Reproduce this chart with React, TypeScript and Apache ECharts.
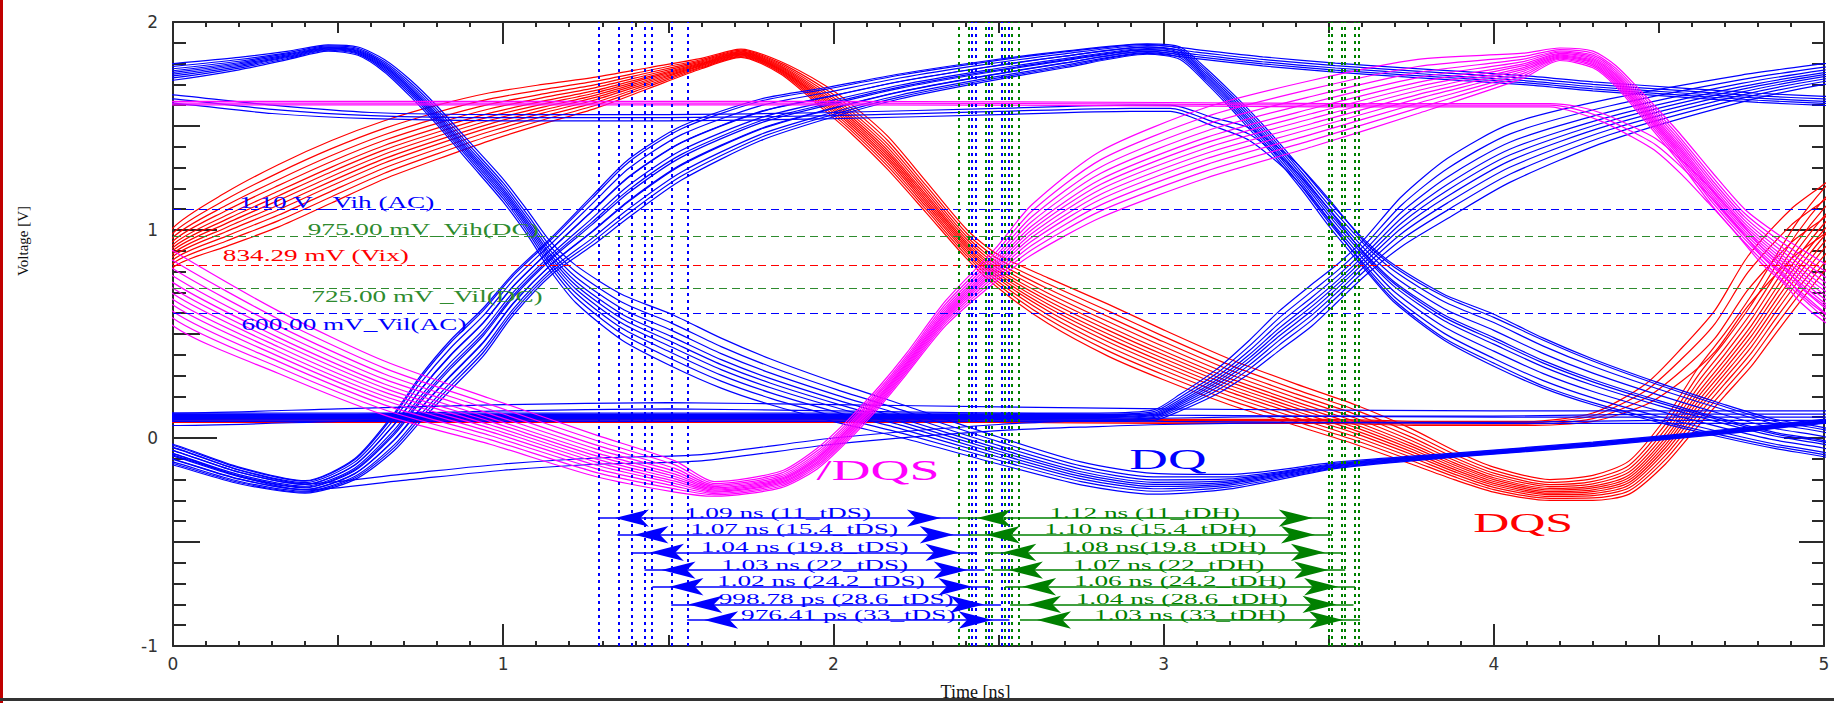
import React, { useEffect, useRef } from "react";
import * as echarts from "echarts";

// ================= DATA =================
// Reference threshold levels [V]
const thresholdValues = [1.1, 0.975, 0.83429, 0.725, 0.6];
const thresholdLabels = [
  "1.10 V _Vih (AC)",
  "975.00 mV_Vih(DC)",
  "834.29 mV (Vix)",
  "725.00 mV _Vil(DC)",
  "600.00 mV_Vil(AC)",
];

// Setup (tDS) and hold (tDH) measurements [ns]
const tdsStart = [1.287, 1.346, 1.393, 1.428, 1.452, 1.509, 1.557];
const tdsValue = [1.09, 1.07, 1.04, 1.03, 1.02, 0.99878, 0.97641];
const tdsLabels = [
  "1.09 ns (11_tDS)",
  "1.07 ns (15.4_tDS)",
  "1.04 ns (19.8_tDS)",
  "1.03 ns (22_tDS)",
  "1.02 ns (24.2_tDS)",
  "998.78 ps (28.6_tDS)",
  "976.41 ps (33_tDS)",
];
const tdhStart = [2.383, 2.41, 2.46, 2.48, 2.52, 2.535, 2.565];
const tdhValue = [1.12, 1.1, 1.08, 1.07, 1.06, 1.04, 1.03];
const tdhLabels = [
  "1.12 ns (11_tDH)",
  "1.10 ns (15.4_tDH)",
  "1.08 ns(19.8_tDH)",
  "1.07 ns (22_tDH)",
  "1.06 ns (24.2_tDH)",
  "1.04 ns (28.6_tDH)",
  "1.03 ns (33_tDH)",
];
const measureRows = [-0.385, -0.465, -0.55, -0.635, -0.715, -0.8, -0.875];

const signalLabels = ["/DQS", "DQ", "DQS"];

// ---- DQ (blue) trace bundles: knot time [ns], centre voltage [V], half spread [V], trace weights
const dqAT = [-0.2, 0, 0.2, 0.35, 0.47, 0.56, 0.64, 0.72, 0.8, 0.9, 1.0, 1.08, 1.14, 1.22, 1.36, 1.51, 1.66, 1.81, 2.01, 2.21, 2.5, 2.75, 2.97, 3.2, 3.53, 3.9, 4.3, 4.7, 5.0, 5.2];
const dqAV = [1.73, 1.76, 1.8, 1.84, 1.875, 1.86, 1.79, 1.68, 1.55, 1.37, 1.19, 1.02, 0.88, 0.74, 0.58, 0.47, 0.36, 0.27, 0.17, 0.08, -0.06, -0.17, -0.22, -0.21, -0.13, -0.08, -0.03, 0.03, 0.08, 0.1];
const dqAS = [0.04, 0.04, 0.03, 0.02, 0.015, 0.02, 0.03, 0.04, 0.045, 0.05, 0.055, 0.06, 0.07, 0.09, 0.11, 0.125, 0.12, 0.11, 0.095, 0.08, 0.065, 0.055, 0.05, 0.035, 0.015, 0.01, 0.01, 0.01, 0.01, 0.01];
const dqAW = [-1, -0.72, -0.48, -0.26, -0.06, 0.14, 0.38, 0.66, 1];

const dqRiseT = [-0.2, 0, 0.2, 0.4, 0.55, 0.67, 0.75, 0.84, 0.94, 1.03, 1.15, 1.27, 1.38, 1.54, 1.78, 1.98, 2.2, 2.45, 2.7, 2.95];
const dqRiseV = [0.0, -0.08, -0.18, -0.235, -0.15, 0.03, 0.19, 0.35, 0.51, 0.69, 0.88, 1.045, 1.2, 1.37, 1.53, 1.61, 1.69, 1.76, 1.82, 1.87];
const dqRiseS = [0.05, 0.05, 0.04, 0.03, 0.05, 0.09, 0.11, 0.12, 0.115, 0.1, 0.09, 0.12, 0.14, 0.13, 0.1, 0.075, 0.06, 0.05, 0.04, 0.025];

const dqFallTailT = [3.05, 3.13, 3.2, 3.26, 3.33, 3.42, 3.5, 3.61, 3.7, 3.85, 4.0, 4.15, 4.3, 4.5, 4.7, 4.85, 5.0, 5.2];
const dqFallTailV = [1.85, 1.74, 1.63, 1.53, 1.41, 1.24, 1.08, 0.88, 0.74, 0.58, 0.47, 0.36, 0.27, 0.17, 0.08, 0.02, -0.02, -0.1];
const dqFallTailS = [0.03, 0.035, 0.04, 0.045, 0.045, 0.05, 0.06, 0.07, 0.09, 0.11, 0.125, 0.12, 0.11, 0.095, 0.08, 0.07, 0.07, 0.06];
const dqRiseFallW = [-1, -0.7, -0.42, -0.15, 0.1, 0.38, 0.68, 1];

const dqHighTailT = [3.1, 3.3, 3.52, 3.8, 4.09, 4.3, 4.57, 4.8, 5.0, 5.2];
const dqHighTailV = [1.845, 1.81, 1.78, 1.75, 1.72, 1.69, 1.66, 1.635, 1.62, 1.61];
const dqHighTailS = [0.025, 0.025, 0.025, 0.025, 0.025, 0.025, 0.025, 0.025, 0.025, 0.025];
const dqRiseHighW = [-0.85, -0.45, -0.05, 0.4, 0.9];

const dqHT = [-0.2, 0, 0.3, 0.6, 1.0, 1.5, 2.0, 2.5, 2.9, 3.02, 3.15, 3.26, 3.39, 3.5, 3.61, 3.7, 3.85, 4.0, 4.15, 4.3, 4.5, 4.7, 4.85, 5.0, 5.2];
const dqHV = [1.65, 1.63, 1.58, 1.55, 1.54, 1.54, 1.55, 1.57, 1.585, 1.585, 1.52, 1.46, 1.3, 1.1, 0.88, 0.74, 0.58, 0.47, 0.36, 0.27, 0.17, 0.08, 0.02, -0.02, -0.1];
const dqHS = [0.02, 0.02, 0.02, 0.015, 0.015, 0.015, 0.015, 0.015, 0.015, 0.015, 0.02, 0.03, 0.04, 0.05, 0.06, 0.08, 0.1, 0.11, 0.11, 0.1, 0.085, 0.07, 0.06, 0.06, 0.05];
const dqHW = [-1, 0, 1];

const dqDT = [-0.2, 0, 0.5, 1.0, 1.5, 2.0, 2.5, 2.8, 2.97, 3.05, 3.16, 3.26, 3.35, 3.45, 3.53, 3.61, 3.72, 3.86, 4.05, 4.35, 4.75, 5.0, 5.2];
const dqDV = [0.11, 0.1, 0.1, 0.1, 0.1, 0.1, 0.1, 0.1, 0.11, 0.17, 0.27, 0.39, 0.515, 0.64, 0.75, 0.87, 1.04, 1.2, 1.37, 1.53, 1.68, 1.75, 1.79];
const dqDS = [0.02, 0.02, 0.02, 0.02, 0.02, 0.02, 0.02, 0.02, 0.025, 0.04, 0.06, 0.08, 0.095, 0.1, 0.09, 0.09, 0.12, 0.145, 0.14, 0.1, 0.065, 0.05, 0.05];
const dqDW = [-1, -0.72, -0.48, -0.26, -0.06, 0.14, 0.38, 0.66, 1];

const dqLT = [-0.2, 0, 0.2, 0.4, 0.69, 1.0, 1.3, 1.6, 2.0, 2.5, 2.8, 3.0, 3.5, 4.0, 4.5, 5.2];
const dqLV = [0.0, -0.06, -0.17, -0.235, -0.19, -0.14, -0.11, -0.095, -0.015, 0.05, 0.07, 0.08, 0.09, 0.09, 0.1, 0.1];
const dqLS = [0.015, 0.015, 0.015, 0.015, 0.015, 0.015, 0.015, 0.015, 0.015, 0.015, 0.015, 0.015, 0.015, 0.015, 0.015, 0.015];
const dqLW = [-1, 1];

const dqFT = [-0.2, 0, 0.5, 1.0, 1.5, 2.0, 2.5, 3.0, 4.0, 5.2];
const dqFV = [0.09, 0.09, 0.11, 0.13, 0.14, 0.13, 0.12, 0.11, 0.1, 0.1];
const dqFS = [0.03, 0.03, 0.03, 0.03, 0.03, 0.03, 0.03, 0.03, 0.03, 0.03];
const dqFW = [-1, 0, 1];

// ---- DQS (red)
const dqsAT = [-0.2, 0, 0.16, 0.32, 0.48, 0.64, 0.8, 0.96, 1.12, 1.28, 1.44, 1.6, 1.72, 1.84, 1.97, 2.05, 2.165, 2.28, 2.405, 2.5, 2.65, 2.83, 3.0, 3.2, 3.4, 3.58, 3.75, 3.88, 4.0, 4.17, 4.3, 4.41, 4.52, 4.62, 4.7, 4.78, 4.85, 4.92, 5.0, 5.2];
const dqsAV = [0.5, 0.915, 1.05, 1.165, 1.28, 1.385, 1.47, 1.545, 1.605, 1.66, 1.73, 1.8, 1.85, 1.78, 1.64, 1.54, 1.37, 1.16, 0.93, 0.8, 0.66, 0.52, 0.4, 0.27, 0.16, 0.065, -0.04, -0.13, -0.2, -0.25, -0.24, -0.19, -0.015, 0.2, 0.354, 0.515, 0.68, 0.84, 1.0, 1.35];
const dqsAS = [0.06, 0.095, 0.13, 0.15, 0.15, 0.14, 0.13, 0.115, 0.095, 0.075, 0.05, 0.025, 0.02, 0.03, 0.06, 0.07, 0.08, 0.075, 0.07, 0.08, 0.11, 0.125, 0.12, 0.11, 0.1, 0.095, 0.085, 0.07, 0.06, 0.05, 0.06, 0.08, 0.11, 0.14, 0.15, 0.17, 0.185, 0.2, 0.2, 0.2];
const dqsAW = [-1, -0.8, -0.62, -0.45, -0.3, -0.15, 0, 0.15, 0.33, 0.52, 0.74, 1];

const dqsBT = [-0.2, 0, 1, 2, 2.5, 3.0, 3.5, 3.8, 4.1, 4.3, 4.46, 4.57, 4.67, 4.77, 4.9, 5.0, 5.2];
const dqsBV = [0.085, 0.085, 0.085, 0.085, 0.085, 0.08, 0.08, 0.07, 0.07, 0.1, 0.21, 0.354, 0.515, 0.755, 0.98, 1.1, 1.35];
const dqsBS = [0.01, 0.01, 0.01, 0.01, 0.01, 0.01, 0.01, 0.01, 0.01, 0.02, 0.05, 0.08, 0.1, 0.12, 0.12, 0.12, 0.12];
const dqsBW = [-1, -0.35, 0.35, 1];

// ---- /DQS (magenta)
const ndqsAT = [-0.2, 0, 0.32, 0.64, 0.96, 1.28, 1.52, 1.64, 1.84, 1.95, 2.04, 2.14, 2.22, 2.34, 2.49, 2.6, 2.81, 3.13, 3.45, 3.77, 4.09, 4.2, 4.3, 4.37, 4.45, 4.56, 4.66, 4.76, 4.86, 4.95, 5.0, 5.2];
const ndqsAV = [1.0, 0.72, 0.46, 0.24, 0.08, -0.085, -0.185, -0.245, -0.2, -0.1, 0.03, 0.2, 0.354, 0.6, 0.83, 1.0, 1.22, 1.42, 1.56, 1.69, 1.79, 1.845, 1.82, 1.74, 1.6, 1.4, 1.2, 1.02, 0.88, 0.77, 0.71, 0.5];
const ndqsAS = [0.1, 0.18, 0.15, 0.13, 0.11, 0.1, 0.075, 0.035, 0.04, 0.05, 0.05, 0.05, 0.05, 0.06, 0.08, 0.12, 0.16, 0.17, 0.16, 0.13, 0.06, 0.03, 0.04, 0.05, 0.06, 0.07, 0.08, 0.08, 0.1, 0.12, 0.13, 0.15];
const ndqsAW = [-1, -0.8, -0.62, -0.45, -0.3, -0.15, 0, 0.15, 0.33, 0.52, 0.74, 1];

const ndqsBT = [-0.2, 0, 1, 2, 3, 3.5, 4.0, 4.17, 4.25, 4.33, 4.41, 4.49, 4.57, 4.65, 4.73, 4.81, 4.88, 4.93, 5.0, 5.2];
const ndqsBV = [1.61, 1.61, 1.61, 1.61, 1.605, 1.6, 1.6, 1.6, 1.58, 1.54, 1.48, 1.41, 1.3, 1.17, 1.03, 0.88, 0.78, 0.69, 0.6, 0.4];
const ndqsBS = [0.008, 0.008, 0.008, 0.008, 0.008, 0.008, 0.008, 0.008, 0.015, 0.02, 0.025, 0.03, 0.035, 0.04, 0.04, 0.04, 0.04, 0.04, 0.04, 0.04];
const ndqsBW = [-1, 0, 1];

// ================= STYLE / LAYOUT =================
const BLUE = "#0000ff";
const RED = "#ff0000";
const MAGENTA = "#ff00ff";
const GREEN = "#008000";
const GREEN_DASH = "#2e8b2e";
const AXIS = "#2a2a2a";
const SERIF = '"Liberation Serif", "Times New Roman", serif';

const thresholdColors = [BLUE, GREEN_DASH, RED, GREEN_DASH, BLUE];
const thresholdLabelAt = [
  [0.2, 1.133],
  [0.408, 1.005],
  [0.151, 0.876],
  [0.419, 0.683],
  [0.2075, 0.547],
];
const signalLabelAt = [
  [2.135, -0.15],
  [3.013, -0.097],
  [4.089, -0.41],
];
const signalLabelColors = [MAGENTA, BLUE, RED];
const signalLabelSize = [30, 30, 27];
const signalLabelScale = [1.8, 1.78, 1.85];

function bundle(t: number[], v: number[], s: number[], w: number[]) {
  return w.map((k) => t.map((ti, i) => [ti, +(v[i] + k * s[i]).toFixed(4)]));
}

function traceSeries(lines: number[][][], color: string) {
  return lines.map((d) => ({
    type: "line",
    data: d,
    symbol: "none",
    showSymbol: false,
    smooth: 0.25,
    silent: true,
    z: 2,
    lineStyle: { width: 1.2, color },
    itemStyle: { color },
    emphasis: { disabled: true },
    animation: false,
  }));
}

function arrowSeries(start: number[], dur: number[], color: string) {
  const data = start.map((s, i) => {
    const end = { symbol: "arrow", symbolSize: [13, 34], symbolOffset: [0, 17] };
    return [
      { coord: [s, measureRows[i]], ...end },
      { coord: [s + dur[i], measureRows[i]], ...end },
    ];
  });
  return {
    type: "line",
    data: [],
    silent: true,
    z: 4,
    markLine: {
      silent: true,
      animation: false,
      symbol: ["arrow", "arrow"],
      label: { show: false },
      lineStyle: { color, width: 1.5, type: "solid" },
      data,
    },
  };
}

function vLineSeries(xs: number[], color: string) {
  return {
    type: "line",
    data: [],
    silent: true,
    z: 3,
    markLine: {
      silent: true,
      animation: false,
      symbol: ["none", "none"],
      label: { show: false },
      lineStyle: { color, width: 2, type: [3, 4] },
      data: xs.map((x) => ({ xAxis: x })),
    },
  };
}

function hLineSeries(ys: number[], color: string) {
  return {
    type: "line",
    data: [],
    silent: true,
    z: 1,
    markLine: {
      silent: true,
      animation: false,
      symbol: ["none", "none"],
      label: { show: false },
      lineStyle: { color, width: 1, type: [8, 5] },
      data: ys.map((y) => ({ yAxis: y })),
    },
  };
}

export default function App() {
  const ref = useRef<HTMLDivElement>(null);

  useEffect(() => {
    if (!ref.current) return;
    const chart = echarts.init(ref.current, null, { renderer: "svg" });

    const tickStyle = { color: AXIS, width: 2 };
    const xBase = { type: "value", min: 0, max: 5, splitLine: { show: false } };
    const yBase = { type: "value", min: -1, max: 2, splitLine: { show: false } };

    const blueLines = [
      ...bundle(dqAT, dqAV, dqAS, dqAW),
      ...bundle(dqRiseT.concat(dqFallTailT), dqRiseV.concat(dqFallTailV), dqRiseS.concat(dqFallTailS), dqRiseFallW),
      ...bundle(dqRiseT.concat(dqHighTailT), dqRiseV.concat(dqHighTailV), dqRiseS.concat(dqHighTailS), dqRiseHighW),
      ...bundle(dqHT, dqHV, dqHS, dqHW),
      ...bundle(dqDT, dqDV, dqDS, dqDW),
      ...bundle(dqLT, dqLV, dqLS, dqLW),
      ...bundle(dqFT, dqFV, dqFS, dqFW),
    ];
    const redLines = [...bundle(dqsAT, dqsAV, dqsAS, dqsAW), ...bundle(dqsBT, dqsBV, dqsBS, dqsBW)];
    const magentaLines = [...bundle(ndqsAT, ndqsAV, ndqsAS, ndqsAW), ...bundle(ndqsBT, ndqsBV, ndqsBS, ndqsBW)];

    const tdsEnd = tdsStart.map((s, i) => s + tdsValue[i]);
    const tdhEnd = tdhStart.map((s, i) => s + tdhValue[i]);

    const option: any = {
      animation: false,
      backgroundColor: "#ffffff",
      grid: { left: 173, right: 10, top: 22, bottom: 57, containLabel: false, outerBoundsMode: "none" },
      xAxis: [
        {
          ...xBase,
          position: "bottom",
          interval: 1,
          axisLine: { show: true, onZero: false, lineStyle: tickStyle },
          axisTick: { show: true, inside: true, length: 22, lineStyle: tickStyle },
          minorTick: { show: true, splitNumber: 10, length: 5, lineStyle: tickStyle },
          axisLabel: { show: true, margin: 9, color: "#333", fontSize: 17, fontFamily: "DejaVu Sans", showMinLabel: true, showMaxLabel: true },
          name: "Time [ns]",
          nameLocation: "middle",
          nameGap: 37,
          nameTextStyle: { fontFamily: SERIF, fontSize: 18, color: "#111", padding: [0, 46, 0, 0] },
        },
        {
          ...xBase,
          position: "bottom",
          interval: 0.5,
          axisLine: { show: false, onZero: false },
          axisTick: { show: true, inside: true, length: 11, lineStyle: tickStyle },
          axisLabel: { show: false },
        },
        {
          ...xBase,
          position: "top",
          interval: 1,
          axisLine: { show: true, onZero: false, lineStyle: tickStyle },
          axisTick: { show: true, inside: true, length: 22, lineStyle: tickStyle },
          minorTick: { show: true, splitNumber: 10, length: 5, lineStyle: tickStyle },
          axisLabel: { show: false },
        },
        {
          ...xBase,
          position: "top",
          interval: 0.5,
          axisLine: { show: false, onZero: false },
          axisTick: { show: true, inside: true, length: 11, lineStyle: tickStyle },
          axisLabel: { show: false },
        },
      ],
      yAxis: [
        {
          ...yBase,
          position: "left",
          interval: 1,
          axisLine: { show: true, onZero: false, lineStyle: tickStyle },
          axisTick: { show: true, inside: true, length: 44, lineStyle: tickStyle },
          minorTick: { show: true, splitNumber: 10, length: 13, lineStyle: tickStyle },
          axisLabel: { show: true, margin: 15, color: "#333", fontSize: 17, fontFamily: "DejaVu Sans", showMinLabel: true, showMaxLabel: true },
          name: "Voltage [V]",
          nameLocation: "middle",
          nameGap: 143,
          nameTextStyle: { fontFamily: SERIF, fontSize: 15, color: "#111", padding: [0, 0, 0, 186] },
        },
        {
          ...yBase,
          position: "left",
          interval: 0.5,
          axisLine: { show: false, onZero: false },
          axisTick: { show: true, inside: true, length: 27, lineStyle: tickStyle },
          axisLabel: { show: false },
        },
        {
          ...yBase,
          position: "right",
          interval: 1,
          axisLine: { show: true, onZero: false, lineStyle: tickStyle },
          axisTick: { show: true, inside: true, length: 40, lineStyle: tickStyle },
          minorTick: { show: true, splitNumber: 10, length: 12, lineStyle: tickStyle },
          axisLabel: { show: false },
        },
        {
          ...yBase,
          position: "right",
          interval: 0.5,
          axisLine: { show: false, onZero: false },
          axisTick: { show: true, inside: true, length: 25, lineStyle: tickStyle },
          axisLabel: { show: false },
        },
      ],
      series: [
        hLineSeries([thresholdValues[0], thresholdValues[4]], BLUE),
        hLineSeries([thresholdValues[1], thresholdValues[3]], GREEN_DASH),
        hLineSeries([thresholdValues[2]], RED),
        ...traceSeries(redLines, RED),
        ...traceSeries(blueLines, BLUE),
        ...traceSeries(magentaLines, MAGENTA),
        vLineSeries(tdsStart.concat(tdsEnd), BLUE),
        vLineSeries(tdhStart.concat(tdhEnd), GREEN),
        arrowSeries(tdsStart, tdsValue, BLUE),
        arrowSeries(tdhStart, tdhValue, GREEN),
      ],
    };

    chart.setOption(option);

    const px = (p: number[]) => chart.convertToPixel({ xAxisIndex: 0, yAxisIndex: 0 }, p) as number[];
    const text = (x: number, y: number, s: string, color: string, size: number, scaleX: number, align: string, vAlign: string) => ({
      type: "text",
      x,
      y,
      scaleX,
      silent: true,
      z: 100,
      style: {
        text: s,
        fill: color,
        font: `${size}px ${SERIF}`,
        textAlign: align,
        textVerticalAlign: vAlign,
        align,
        verticalAlign: vAlign,
      },
    });

    const g: any[] = [];
    thresholdLabels.forEach((s, i) => {
      const [x, y] = px(thresholdLabelAt[i]);
      g.push(text(x, y, s, thresholdColors[i], 17, 1.6, "left", "middle"));
    });
    tdsLabels.forEach((s, i) => {
      const [x, y] = px([tdsStart[i] + tdsValue[i] / 2, measureRows[i]]);
      g.push(text(x, y + 2, s, BLUE, 14, 1.95, "center", "bottom"));
    });
    tdhLabels.forEach((s, i) => {
      const [x, y] = px([tdhStart[i] + tdhValue[i] / 2, measureRows[i]]);
      g.push(text(x, y + 2, s, GREEN, 14, 1.95, "center", "bottom"));
    });
    signalLabels.forEach((s, i) => {
      const [x, y] = px(signalLabelAt[i]);
      g.push(text(x, y, s, signalLabelColors[i], signalLabelSize[i], signalLabelScale[i], "center", "middle"));
    });
    // window frame decorations
    g.push({ type: "rect", shape: { x: 0, y: 0, width: 3, height: 703 }, style: { fill: "#c00000" }, silent: true, z: 200 });
    g.push({ type: "rect", shape: { x: 0, y: 698, width: 1834, height: 3 }, style: { fill: "#333333" }, silent: true, z: 200 });

    chart.setOption({ graphic: g });

    return () => {
      chart.dispose();
    };
  }, []);

  return (
    <div
      ref={ref}
      style={{ position: "fixed", left: 0, top: 0, width: 1834, height: 703, background: "#ffffff" }}
    />
  );
}
